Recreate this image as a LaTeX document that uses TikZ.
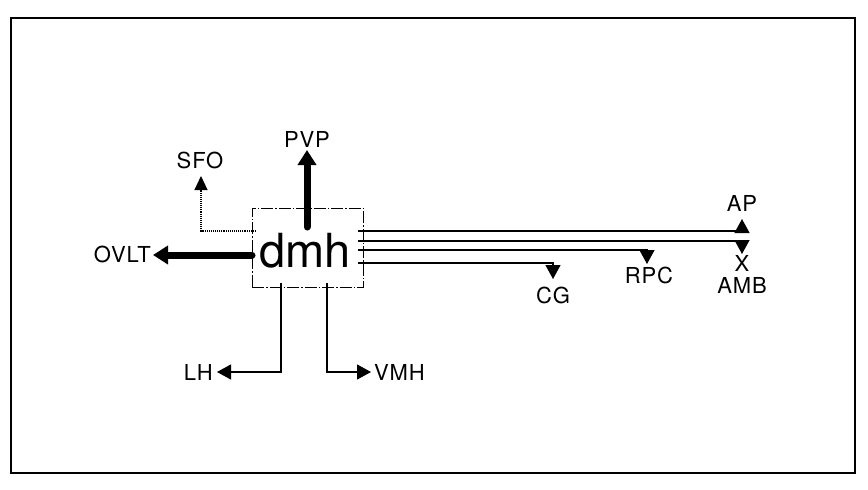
\documentclass[tikz,border=0pt]{standalone}
\usepackage{fontspec}
\setmainfont{TeX Gyre Heros}[LetterSpace=4]
\usetikzlibrary{arrows.meta}
\begin{document}
\begin{tikzpicture}[x=1pt,y=-1pt,
  lbl/.style={inner sep=0pt,font=\fontsize{22}{26}\selectfont},
  thinline/.style={line width=1.2pt,-{Triangle[length=14pt,width=15pt]}},
  dotline/.style={line width=1.1pt,densely dotted,-{Triangle[length=14pt,width=13pt]}},
  thickline/.style={line width=7pt,-{Triangle[length=15pt,width=18pt]}},
  boxstyle/.style={draw,line width=1pt,dash pattern=on 12pt off 2pt on 1.5pt off 2pt,minimum width=111pt,minimum height=79pt,inner sep=0pt}]
\useasboundingbox (0,0) rectangle (868,490);
\draw[line width=2.5pt] (11,18) rectangle (855,473);
% main box
\node[boxstyle] (box) at (307.5,247.5) {};
\node[anchor=base,inner sep=0pt,font=\fontsize{47}{50}\selectfont\addfontfeature{LetterSpace=0}] (dmh) at (305,267) {dmh};
% labels
\node[lbl] (pvp) at (307,139) {PVP};
\node[lbl] (sfo) at (200,160) {SFO};
\node[lbl,anchor=east] (ovlt) at (151,254) {OVLT};
\node[lbl] (ap) at (742,203) {AP};
\node[lbl] (x) at (742,263) {X};
\node[lbl] (amb) at (742,285) {AMB};
\node[lbl] (rpc) at (649,275) {RPC};
\node[lbl] (cg) at (553,295) {CG};
\node[lbl,anchor=east] (lh) at (213,372) {LH};
\node[lbl,anchor=west] (vmh) at (374,372) {VMH};
% coordinates
\coordinate (pvpS) at (307,227);
\coordinate (pvpT) at (307,150);
\coordinate (ovltS) at (252,255);
\coordinate (ovltT) at (153,255);
\coordinate (sfoS) at (256,231);
\coordinate (sfoT) at (201,176);
\coordinate (apS) at (358,231);
\coordinate (apT) at (742,219);
\coordinate (ambS) at (358,241);
\coordinate (ambT) at (742,254);
\coordinate (rpcS) at (358,250);
\coordinate (rpcT) at (647,264);
\coordinate (cgS) at (358,263);
\coordinate (cgT) at (553,279);
\coordinate (lhS) at (281,283);
\coordinate (lhT) at (217,372);
\coordinate (vmhS) at (327,283);
\coordinate (vmhT) at (371,372);
% connectors
\draw[thickline,line cap=round] (pvpS) -- (pvpT);
\draw[thickline,line cap=round] (ovltS) -- (ovltT);
\draw[dotline] (sfoS) -| (sfoT);
\draw[thinline] (apS) -| (apT);
\draw[thinline] (ambS) -| (ambT);
\draw[thinline] (rpcS) -| (rpcT);
\draw[thinline] (cgS) -| (cgT);
\draw[thinline] (lhS) |- (lhT);
\draw[thinline] (vmhS) |- (vmhT);
\end{tikzpicture}
\end{document}
